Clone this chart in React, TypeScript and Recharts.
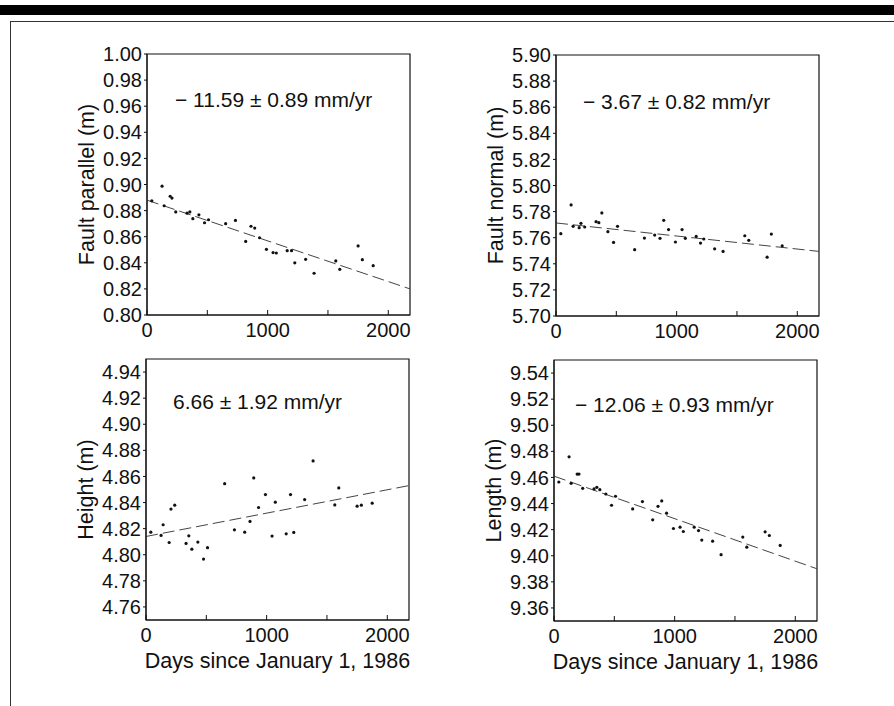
import React from 'react';
import { ScatterChart, Scatter, XAxis, YAxis, ReferenceLine, ReferenceArea } from 'recharts';

// survey epochs, days since January 1, 1986 (shared by all four panels)
const days = [40, 125, 142, 192, 207, 238, 332, 355, 380, 430, 477, 510, 652, 733, 818, 862, 893, 933, 990, 1045, 1072, 1162, 1198, 1225, 1315, 1385, 1565, 1598, 1750, 1785, 1875];

const faultParallel = [0.8875, 0.8987, 0.8837, 0.891, 0.8896, 0.879, 0.878, 0.879, 0.8738, 0.8768, 0.8707, 0.873, 0.870, 0.8725, 0.8564, 0.868, 0.8666, 0.8592, 0.8503, 0.8478, 0.8475, 0.8493, 0.8493, 0.840, 0.8427, 0.832, 0.8414, 0.835, 0.8529, 0.8424, 0.8378];
const faultNormal = [5.7631, 5.7851, 5.7687, 5.7677, 5.771, 5.7682, 5.7723, 5.7715, 5.779, 5.7646, 5.7564, 5.7687, 5.7508, 5.7597, 5.762, 5.7595, 5.7733, 5.7662, 5.7567, 5.7662, 5.7595, 5.761, 5.7559, 5.759, 5.7515, 5.7495, 5.7615, 5.758, 5.7451, 5.7628, 5.7538];
const heightVals = [4.8173, 4.8148, 4.823, 4.8094, 4.835, 4.838, 4.8087, 4.8145, 4.8043, 4.8097, 4.7967, 4.8054, 4.8545, 4.8191, 4.8173, 4.8255, 4.8589, 4.8362, 4.8461, 4.8143, 4.8403, 4.816, 4.8461, 4.8171, 4.8423, 4.8719, 4.8382, 4.8512, 4.8372, 4.838, 4.8395];
const lengthVals = [9.4565, 9.4758, 9.4555, 9.4626, 9.4626, 9.4517, 9.4512, 9.4524, 9.4506, 9.4473, 9.4387, 9.4456, 9.4359, 9.4415, 9.4275, 9.4379, 9.442, 9.4326, 9.4209, 9.4219, 9.4186, 9.4219, 9.4193, 9.412, 9.4112, 9.4008, 9.4143, 9.4066, 9.4183, 9.4155, 9.4079];

// linear fits, value at day 0 and at the right edge
const fitDays = [0, 2180];
const fitParallel = [0.888, 0.820];
const fitNormal = [5.7713, 5.7495];
const fitHeight = [4.814, 4.853];
const fitLength = [9.461, 9.390];

const dayTicks = [0, 500, 1000, 1500, 2000];
const parallelTicks = [0.80, 0.82, 0.84, 0.86, 0.88, 0.90, 0.92, 0.94, 0.96, 0.98, 1.00];
const normalTicks = [5.70, 5.72, 5.74, 5.76, 5.78, 5.80, 5.82, 5.84, 5.86, 5.88, 5.90];
const heightTicks = [4.76, 4.78, 4.80, 4.82, 4.84, 4.86, 4.88, 4.90, 4.92, 4.94];
const lengthTicks = [9.36, 9.38, 9.40, 9.42, 9.44, 9.46, 9.48, 9.50, 9.52, 9.54];

const INK = '#111';
const FONT = '"Liberation Sans", Arial, Helvetica, sans-serif';
const PLOT_W = 263;
const PLOT_H = 261;
const Y_AXIS_W = 120;
const M_TOP = 12;
const M_RIGHT = 12;
const TICK_FS = 20;
const TITLE_FS = 21.5;

function DayTick({ x, payload, axisY }: any) {
  const v = payload.value;
  return (
    <g>
      <line x1={x} x2={x} y1={axisY} y2={axisY - 5} stroke={INK} />
      {v % 1000 === 0 && (
        <text x={x} y={axisY + 22} textAnchor="middle" fill={INK} fontSize={TICK_FS} fontFamily={FONT}>
          {v}
        </text>
      )}
    </g>
  );
}

const Dot = (p: any) => <circle cx={p.cx} cy={p.cy} r={1.6} fill={INK} />;

interface PanelProps {
  left: number;
  top: number;
  values: number[];
  yDomain: [number, number];
  yTicks: number[];
  fit: number[];
  title: string;
  rate: string;
  rateDx: number;
  rateDy: number;
  xTitle?: string;
}

function Panel({ left, top, values, yDomain, yTicks, fit, title, rate, rateDx, rateDy, xTitle }: PanelProps) {
  const xAxisH = xTitle ? 64 : 40;
  const data = days.map((d, i) => ({ day: d, v: values[i] }));
  const axisY = M_TOP + PLOT_H;

  return (
    <div style={{ position: 'absolute', left: left - Y_AXIS_W, top: top - M_TOP }}>
      <ScatterChart
        width={Y_AXIS_W + PLOT_W + M_RIGHT}
        height={M_TOP + PLOT_H + xAxisH}
        margin={{ top: M_TOP, right: M_RIGHT, bottom: 0, left: 0 }}
      >
        <XAxis
          type="number"
          dataKey="day"
          domain={[fitDays[0], fitDays[1]]}
          ticks={dayTicks}
          interval={0}
          allowDataOverflow
          height={xAxisH}
          tickSize={0}
          tickLine={false}
          axisLine={{ stroke: INK }}
          tick={(p: any) => <DayTick {...p} axisY={axisY} />}
          label={
            xTitle
              ? (p: any) => (
                  <text
                    x={p.viewBox.x + p.viewBox.width / 2}
                    y={p.viewBox.y + 48}
                    textAnchor="middle"
                    fill={INK}
                    fontSize={TITLE_FS}
                    fontFamily={FONT}
                  >
                    {xTitle}
                  </text>
                )
              : undefined
          }
        />
        <YAxis
          type="number"
          dataKey="v"
          domain={yDomain}
          ticks={yTicks}
          interval={0}
          allowDataOverflow
          width={Y_AXIS_W}
          tickSize={3}
          tickMargin={2}
          axisLine={{ stroke: INK }}
          tickLine={{ stroke: INK }}
          tick={{ fill: INK, fontSize: TICK_FS, fontFamily: FONT }}
          tickFormatter={(v: number) => v.toFixed(2)}
          label={(p: any) => {
            const cx = p.viewBox.x + p.viewBox.width - 60;
            const cy = p.viewBox.y + p.viewBox.height / 2;
            return (
              <text
                x={cx}
                y={cy}
                transform={`rotate(-90 ${cx} ${cy})`}
                textAnchor="middle"
                dominantBaseline="central"
                fill={INK}
                fontSize={TITLE_FS}
                fontFamily={FONT}
              >
                {title}
              </text>
            );
          }}
        />
        <ReferenceArea
          x1={fitDays[0]}
          x2={fitDays[1]}
          y1={yDomain[0]}
          y2={yDomain[1]}
          fill="none"
          fillOpacity={0}
          stroke={INK}
          strokeWidth={1.2}
          label={(p: any) => (
            <text
              x={p.viewBox.x + rateDx}
              y={p.viewBox.y + rateDy}
              fill={INK}
              fontSize={21}
              fontFamily={FONT}
            >
              {rate}
            </text>
          )}
        />
        <ReferenceLine
          segment={[
            { x: fitDays[0], y: fit[0] },
            { x: fitDays[1], y: fit[1] },
          ]}
          stroke="#444"
          strokeWidth={1}
          strokeDasharray="12 5"
        />
        <Scatter data={data} isAnimationActive={false} shape={Dot} />
      </ScatterChart>
    </div>
  );
}

export default function App() {
  return (
    <div
      style={{
        position: 'absolute',
        left: 0,
        top: 0,
        width: 894,
        height: 706,
        overflow: 'hidden',
        background: '#fff',
      }}
    >
      <div style={{ position: 'absolute', left: 0, top: 5, width: 894, height: 10, background: '#000' }} />
      <div
        style={{
          position: 'absolute',
          left: 10,
          top: 21,
          width: 900,
          height: 700,
          borderLeft: '1.5px solid #333',
          borderTop: '1.5px solid #333',
        }}
      />
      <Panel
        left={147}
        top={54}
        values={faultParallel}
        yDomain={[0.8, 1.0]}
        yTicks={parallelTicks}
        fit={fitParallel}
        title="Fault parallel (m)"
        rate="− 11.59 ± 0.89 mm/yr"
        rateDx={28}
        rateDy={53}
      />
      <Panel
        left={556}
        top={55}
        values={faultNormal}
        yDomain={[5.7, 5.9]}
        yTicks={normalTicks}
        fit={fitNormal}
        title="Fault normal (m)"
        rate="− 3.67 ± 0.82 mm/yr"
        rateDx={27}
        rateDy={54}
      />
      <Panel
        left={146}
        top={359}
        values={heightVals}
        yDomain={[4.75, 4.95]}
        yTicks={heightTicks}
        fit={fitHeight}
        title="Height (m)"
        rate="6.66 ± 1.92 mm/yr"
        rateDx={27}
        rateDy={50}
        xTitle="Days since January 1, 1986"
      />
      <Panel
        left={554}
        top={360}
        values={lengthVals}
        yDomain={[9.35, 9.55]}
        yTicks={lengthTicks}
        fit={fitLength}
        title="Length (m)"
        rate="− 12.06 ± 0.93 mm/yr"
        rateDx={21}
        rateDy={52}
        xTitle="Days since January 1, 1986"
      />
    </div>
  );
}
